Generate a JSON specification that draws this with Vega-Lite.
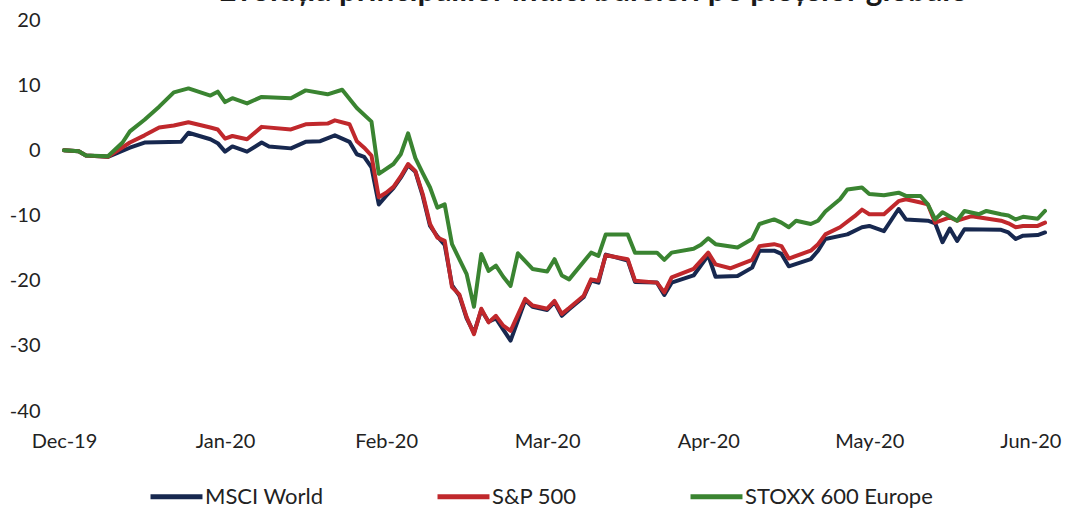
{
  "$schema": "https://vega.github.io/schema/vega-lite/v6.json",
  "width": 981,
  "height": 391,
  "autosize": {"type": "none"},
  "padding": {"left": 64, "top": 20, "right": 23, "bottom": 99},
  "background": "white",
  "title": {"text": "Evoluția principalilor indici bursieri pe piețelor globale", "font": "Lato", "fontSize": 31.5, "fontWeight": "bold", "color": "#1a1a1a", "anchor": "middle", "dx": 38, "offset": -29, "baseline": "bottom"},
  "config": {"view": {"stroke": null}},
  "data": {"values": [
    {"day":0,"series":"MSCI World","value":0},{"day":2,"series":"MSCI World","value":-0.15},{"day":3,"series":"MSCI World","value":-0.8},{"day":6,"series":"MSCI World","value":-1.0},{"day":9,"series":"MSCI World","value":0.4},{"day":11,"series":"MSCI World","value":1.2},{"day":16,"series":"MSCI World","value":1.3},{"day":17,"series":"MSCI World","value":2.7},{"day":20,"series":"MSCI World","value":1.7},{"day":21,"series":"MSCI World","value":1.1},{"day":22,"series":"MSCI World","value":-0.2},{"day":23,"series":"MSCI World","value":0.6},{"day":25,"series":"MSCI World","value":-0.2},{"day":27,"series":"MSCI World","value":1.2},{"day":28,"series":"MSCI World","value":0.6},{"day":31,"series":"MSCI World","value":0.3},{"day":33,"series":"MSCI World","value":1.3},{"day":35,"series":"MSCI World","value":1.4},{"day":37,"series":"MSCI World","value":2.3},{"day":39,"series":"MSCI World","value":1.3},{"day":40,"series":"MSCI World","value":-0.6},{"day":41,"series":"MSCI World","value":-1.0},{"day":42,"series":"MSCI World","value":-2.6},{"day":43,"series":"MSCI World","value":-8.3},{"day":44,"series":"MSCI World","value":-7.0},{"day":45,"series":"MSCI World","value":-5.8},{"day":46,"series":"MSCI World","value":-4.2},{"day":47,"series":"MSCI World","value":-2.3},{"day":48,"series":"MSCI World","value":-3.3},{"day":49,"series":"MSCI World","value":-7.0},{"day":50,"series":"MSCI World","value":-11.6},{"day":51,"series":"MSCI World","value":-13.2},{"day":52,"series":"MSCI World","value":-14.5},{"day":53,"series":"MSCI World","value":-20.7},{"day":54,"series":"MSCI World","value":-22.3},{"day":55,"series":"MSCI World","value":-25.8},{"day":56,"series":"MSCI World","value":-28.0},{"day":57,"series":"MSCI World","value":-24.5},{"day":58,"series":"MSCI World","value":-26.3},{"day":59,"series":"MSCI World","value":-25.8},{"day":60,"series":"MSCI World","value":-27.5},{"day":61,"series":"MSCI World","value":-29.2},{"day":63,"series":"MSCI World","value":-23.0},{"day":64,"series":"MSCI World","value":-24.0},{"day":66,"series":"MSCI World","value":-24.5},{"day":67,"series":"MSCI World","value":-23.3},{"day":68,"series":"MSCI World","value":-25.4},{"day":69,"series":"MSCI World","value":-24.4},{"day":71,"series":"MSCI World","value":-22.5},{"day":72,"series":"MSCI World","value":-20.0},{"day":73,"series":"MSCI World","value":-20.3},{"day":74,"series":"MSCI World","value":-16.0},{"day":77,"series":"MSCI World","value":-16.9},{"day":78,"series":"MSCI World","value":-20.2},{"day":81,"series":"MSCI World","value":-20.3},{"day":82,"series":"MSCI World","value":-22.2},{"day":83,"series":"MSCI World","value":-20.3},{"day":86,"series":"MSCI World","value":-19.2},{"day":88,"series":"MSCI World","value":-16.1},{"day":89,"series":"MSCI World","value":-19.4},{"day":92,"series":"MSCI World","value":-19.3},{"day":94,"series":"MSCI World","value":-18.0},{"day":95,"series":"MSCI World","value":-15.4},{"day":97,"series":"MSCI World","value":-15.4},{"day":98,"series":"MSCI World","value":-15.9},{"day":99,"series":"MSCI World","value":-17.8},{"day":102,"series":"MSCI World","value":-16.7},{"day":103,"series":"MSCI World","value":-15.4},{"day":104,"series":"MSCI World","value":-13.6},{"day":107,"series":"MSCI World","value":-12.9},{"day":109,"series":"MSCI World","value":-11.8},{"day":110,"series":"MSCI World","value":-11.6},{"day":112,"series":"MSCI World","value":-12.4},{"day":114,"series":"MSCI World","value":-9.0},{"day":115,"series":"MSCI World","value":-10.6},{"day":118,"series":"MSCI World","value":-10.8},{"day":119,"series":"MSCI World","value":-11.2},{"day":120,"series":"MSCI World","value":-14.1},{"day":121,"series":"MSCI World","value":-12.0},{"day":122,"series":"MSCI World","value":-13.9},{"day":123,"series":"MSCI World","value":-12.1},{"day":128,"series":"MSCI World","value":-12.2},{"day":129,"series":"MSCI World","value":-12.6},{"day":130,"series":"MSCI World","value":-13.6},{"day":131,"series":"MSCI World","value":-13.1},{"day":133,"series":"MSCI World","value":-13.0},{"day":134,"series":"MSCI World","value":-12.6},
    {"day":0,"series":"S&P 500","value":0},{"day":2,"series":"S&P 500","value":-0.15},{"day":3,"series":"S&P 500","value":-0.8},{"day":6,"series":"S&P 500","value":-1.0},{"day":9,"series":"S&P 500","value":1.2},{"day":11,"series":"S&P 500","value":2.3},{"day":13,"series":"S&P 500","value":3.5},{"day":15,"series":"S&P 500","value":3.8},{"day":17,"series":"S&P 500","value":4.3},{"day":20,"series":"S&P 500","value":3.5},{"day":21,"series":"S&P 500","value":3.2},{"day":22,"series":"S&P 500","value":1.8},{"day":23,"series":"S&P 500","value":2.2},{"day":25,"series":"S&P 500","value":1.7},{"day":27,"series":"S&P 500","value":3.6},{"day":31,"series":"S&P 500","value":3.2},{"day":33,"series":"S&P 500","value":4.0},{"day":36,"series":"S&P 500","value":4.1},{"day":37,"series":"S&P 500","value":4.6},{"day":39,"series":"S&P 500","value":4.0},{"day":40,"series":"S&P 500","value":1.4},{"day":41,"series":"S&P 500","value":0.4},{"day":42,"series":"S&P 500","value":-0.8},{"day":43,"series":"S&P 500","value":-7.2},{"day":44,"series":"S&P 500","value":-6.5},{"day":45,"series":"S&P 500","value":-5.6},{"day":46,"series":"S&P 500","value":-4.0},{"day":47,"series":"S&P 500","value":-2.1},{"day":48,"series":"S&P 500","value":-3.2},{"day":49,"series":"S&P 500","value":-6.7},{"day":50,"series":"S&P 500","value":-11.3},{"day":51,"series":"S&P 500","value":-13.4},{"day":52,"series":"S&P 500","value":-13.9},{"day":53,"series":"S&P 500","value":-21.0},{"day":54,"series":"S&P 500","value":-22.1},{"day":55,"series":"S&P 500","value":-25.6},{"day":56,"series":"S&P 500","value":-28.2},{"day":57,"series":"S&P 500","value":-24.3},{"day":58,"series":"S&P 500","value":-26.4},{"day":59,"series":"S&P 500","value":-25.4},{"day":60,"series":"S&P 500","value":-26.9},{"day":61,"series":"S&P 500","value":-27.7},{"day":63,"series":"S&P 500","value":-22.8},{"day":64,"series":"S&P 500","value":-23.8},{"day":66,"series":"S&P 500","value":-24.3},{"day":67,"series":"S&P 500","value":-23.1},{"day":68,"series":"S&P 500","value":-25.1},{"day":69,"series":"S&P 500","value":-24.2},{"day":71,"series":"S&P 500","value":-22.3},{"day":72,"series":"S&P 500","value":-19.8},{"day":73,"series":"S&P 500","value":-20.0},{"day":74,"series":"S&P 500","value":-16.1},{"day":77,"series":"S&P 500","value":-16.7},{"day":78,"series":"S&P 500","value":-20.0},{"day":81,"series":"S&P 500","value":-20.3},{"day":82,"series":"S&P 500","value":-21.8},{"day":83,"series":"S&P 500","value":-19.5},{"day":86,"series":"S&P 500","value":-18.2},{"day":88,"series":"S&P 500","value":-15.7},{"day":89,"series":"S&P 500","value":-17.5},{"day":91,"series":"S&P 500","value":-18.1},{"day":94,"series":"S&P 500","value":-16.8},{"day":95,"series":"S&P 500","value":-14.7},{"day":97,"series":"S&P 500","value":-14.4},{"day":98,"series":"S&P 500","value":-14.7},{"day":99,"series":"S&P 500","value":-16.6},{"day":102,"series":"S&P 500","value":-15.4},{"day":103,"series":"S&P 500","value":-14.4},{"day":104,"series":"S&P 500","value":-12.9},{"day":106,"series":"S&P 500","value":-11.8},{"day":108,"series":"S&P 500","value":-10.1},{"day":109,"series":"S&P 500","value":-9.1},{"day":110,"series":"S&P 500","value":-9.8},{"day":112,"series":"S&P 500","value":-9.8},{"day":114,"series":"S&P 500","value":-7.8},{"day":115,"series":"S&P 500","value":-7.5},{"day":117,"series":"S&P 500","value":-8.0},{"day":118,"series":"S&P 500","value":-8.3},{"day":119,"series":"S&P 500","value":-11.1},{"day":121,"series":"S&P 500","value":-10.3},{"day":122,"series":"S&P 500","value":-10.8},{"day":124,"series":"S&P 500","value":-10.1},{"day":128,"series":"S&P 500","value":-10.8},{"day":129,"series":"S&P 500","value":-11.2},{"day":130,"series":"S&P 500","value":-11.8},{"day":131,"series":"S&P 500","value":-11.6},{"day":133,"series":"S&P 500","value":-11.6},{"day":134,"series":"S&P 500","value":-11.1},
    {"day":0,"series":"STOXX 600 Europe","value":0},{"day":2,"series":"STOXX 600 Europe","value":-0.15},{"day":3,"series":"STOXX 600 Europe","value":-0.8},{"day":6,"series":"STOXX 600 Europe","value":-0.9},{"day":8,"series":"STOXX 600 Europe","value":1.2},{"day":9,"series":"STOXX 600 Europe","value":2.9},{"day":11,"series":"STOXX 600 Europe","value":4.7},{"day":13,"series":"STOXX 600 Europe","value":6.7},{"day":15,"series":"STOXX 600 Europe","value":8.9},{"day":17,"series":"STOXX 600 Europe","value":9.5},{"day":20,"series":"STOXX 600 Europe","value":8.4},{"day":21,"series":"STOXX 600 Europe","value":9.0},{"day":22,"series":"STOXX 600 Europe","value":7.4},{"day":23,"series":"STOXX 600 Europe","value":8.0},{"day":25,"series":"STOXX 600 Europe","value":7.2},{"day":27,"series":"STOXX 600 Europe","value":8.2},{"day":31,"series":"STOXX 600 Europe","value":8.0},{"day":33,"series":"STOXX 600 Europe","value":9.2},{"day":36,"series":"STOXX 600 Europe","value":8.6},{"day":38,"series":"STOXX 600 Europe","value":9.3},{"day":40,"series":"STOXX 600 Europe","value":6.5},{"day":42,"series":"STOXX 600 Europe","value":4.4},{"day":43,"series":"STOXX 600 Europe","value":-3.6},{"day":45,"series":"STOXX 600 Europe","value":-2.1},{"day":46,"series":"STOXX 600 Europe","value":-0.6},{"day":47,"series":"STOXX 600 Europe","value":2.6},{"day":48,"series":"STOXX 600 Europe","value":-1.2},{"day":49,"series":"STOXX 600 Europe","value":-3.5},{"day":50,"series":"STOXX 600 Europe","value":-5.7},{"day":51,"series":"STOXX 600 Europe","value":-8.8},{"day":52,"series":"STOXX 600 Europe","value":-8.3},{"day":53,"series":"STOXX 600 Europe","value":-14.4},{"day":55,"series":"STOXX 600 Europe","value":-19.0},{"day":56,"series":"STOXX 600 Europe","value":-24.0},{"day":57,"series":"STOXX 600 Europe","value":-15.9},{"day":58,"series":"STOXX 600 Europe","value":-18.5},{"day":59,"series":"STOXX 600 Europe","value":-17.7},{"day":60,"series":"STOXX 600 Europe","value":-19.4},{"day":61,"series":"STOXX 600 Europe","value":-20.8},{"day":62,"series":"STOXX 600 Europe","value":-15.8},{"day":64,"series":"STOXX 600 Europe","value":-18.2},{"day":66,"series":"STOXX 600 Europe","value":-18.6},{"day":67,"series":"STOXX 600 Europe","value":-16.7},{"day":68,"series":"STOXX 600 Europe","value":-19.2},{"day":69,"series":"STOXX 600 Europe","value":-19.8},{"day":72,"series":"STOXX 600 Europe","value":-15.7},{"day":73,"series":"STOXX 600 Europe","value":-16.2},{"day":74,"series":"STOXX 600 Europe","value":-12.9},{"day":77,"series":"STOXX 600 Europe","value":-12.9},{"day":78,"series":"STOXX 600 Europe","value":-15.7},{"day":81,"series":"STOXX 600 Europe","value":-15.7},{"day":82,"series":"STOXX 600 Europe","value":-16.8},{"day":83,"series":"STOXX 600 Europe","value":-15.7},{"day":86,"series":"STOXX 600 Europe","value":-15.1},{"day":87,"series":"STOXX 600 Europe","value":-14.5},{"day":88,"series":"STOXX 600 Europe","value":-13.5},{"day":89,"series":"STOXX 600 Europe","value":-14.4},{"day":92,"series":"STOXX 600 Europe","value":-14.9},{"day":94,"series":"STOXX 600 Europe","value":-13.6},{"day":95,"series":"STOXX 600 Europe","value":-11.3},{"day":97,"series":"STOXX 600 Europe","value":-10.6},{"day":98,"series":"STOXX 600 Europe","value":-11.1},{"day":99,"series":"STOXX 600 Europe","value":-11.8},{"day":100,"series":"STOXX 600 Europe","value":-10.8},{"day":102,"series":"STOXX 600 Europe","value":-11.3},{"day":103,"series":"STOXX 600 Europe","value":-10.8},{"day":104,"series":"STOXX 600 Europe","value":-9.4},{"day":106,"series":"STOXX 600 Europe","value":-7.5},{"day":107,"series":"STOXX 600 Europe","value":-6.0},{"day":109,"series":"STOXX 600 Europe","value":-5.7},{"day":110,"series":"STOXX 600 Europe","value":-6.7},{"day":112,"series":"STOXX 600 Europe","value":-6.9},{"day":114,"series":"STOXX 600 Europe","value":-6.5},{"day":115,"series":"STOXX 600 Europe","value":-7.0},{"day":117,"series":"STOXX 600 Europe","value":-7.0},{"day":118,"series":"STOXX 600 Europe","value":-8.3},{"day":119,"series":"STOXX 600 Europe","value":-10.6},{"day":120,"series":"STOXX 600 Europe","value":-9.5},{"day":122,"series":"STOXX 600 Europe","value":-10.8},{"day":123,"series":"STOXX 600 Europe","value":-9.3},{"day":125,"series":"STOXX 600 Europe","value":-9.8},{"day":126,"series":"STOXX 600 Europe","value":-9.3},{"day":128,"series":"STOXX 600 Europe","value":-9.8},{"day":129,"series":"STOXX 600 Europe","value":-10.0},{"day":130,"series":"STOXX 600 Europe","value":-10.6},{"day":131,"series":"STOXX 600 Europe","value":-10.2},{"day":133,"series":"STOXX 600 Europe","value":-10.5},{"day":134,"series":"STOXX 600 Europe","value":-9.3}
  ]},
  "mark": {"type": "line", "strokeWidth": 4, "strokeJoin": "round", "strokeCap": "round"},
  "encoding": {
    "x": {"field": "day", "type": "quantitative", "scale": {"domain": [0, 134], "nice": false, "zero": false},
      "axis": {"values": [0, 22, 44, 66, 88, 110, 132], "labelExpr": "['Dec-19','Jan-20','Feb-20','Mar-20','Apr-20','May-20','Jun-20'][round(datum.value/22)]", "grid": false, "domain": false, "ticks": false, "labelPadding": 20, "title": null, "labelFont": "Lato", "labelFontSize": 20, "labelColor": "#222222", "labelFlush": false}},
    "y": {"field": "value", "type": "quantitative", "scale": {"domain": [-40, 20], "nice": false},
      "axis": {"values": [-40, -30, -20, -10, 0, 10, 20], "labelExpr": "'' + datum.value", "grid": false, "domain": false, "ticks": false, "labelPadding": 24, "title": null, "labelFont": "Lato", "labelFontSize": 20, "labelColor": "#222222"}},
    "color": {"field": "series", "type": "nominal",
      "scale": {"domain": ["MSCI World", "S&P 500", "STOXX 600 Europe"], "range": ["#17284F", "#C0282C", "#3A8431"]},
      "legend": {"title": null, "orient": "none", "legendX": 84, "legendY": 448, "direction": "horizontal", "symbolType": "stroke", "symbolSize": 2700, "symbolStrokeWidth": 5, "labelOffset": 0, "columnPadding": 103, "labelFont": "Lato", "labelFontSize": 22, "labelLimit": 400, "labelColor": "#222222", "padding": 0}}
  }
}
